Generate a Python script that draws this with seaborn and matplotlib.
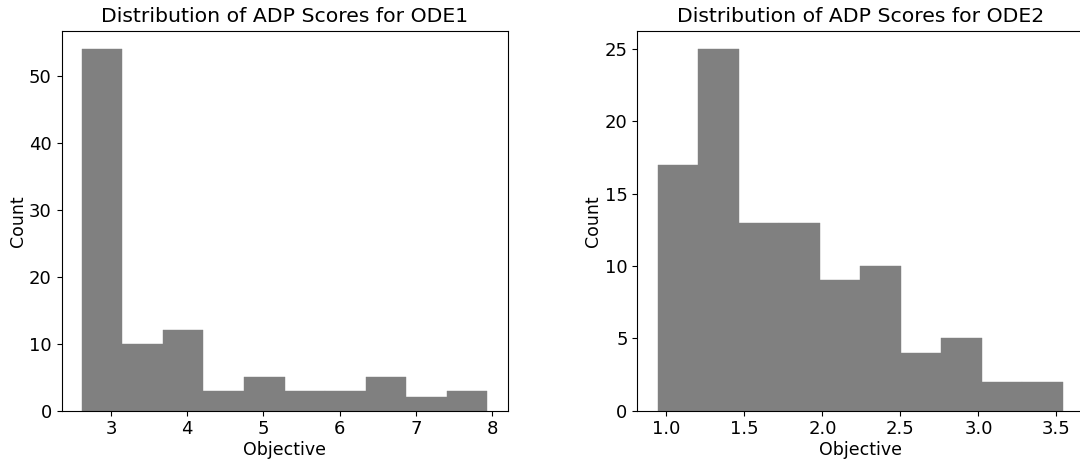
import numpy as np
import pandas as pd
import matplotlib
matplotlib.use("Agg")
import matplotlib.pyplot as plt
import seaborn as sns

# ODE1 histogram (10 bins)
ode1_edges = np.linspace(2.616, 7.935, 11)
ode1_counts = [54, 10, 12, 3, 5, 3, 3, 5, 2, 3]
# ODE2 histogram (10 bins)
ode2_edges = np.linspace(0.944, 3.542, 11)
ode2_counts = [17, 25, 13, 13, 9, 10, 4, 5, 2, 2]

titles = ["Distribution of ADP Scores for ODE1", "Distribution of ADP Scores for ODE2"]

plt.rcParams['font.family'] = ['DejaVu Sans']
fig = plt.figure(figsize=(10.8, 4.59), dpi=100)
W, H = 1080, 459
ax1 = fig.add_axes([61.5 / W, 1 - 410.7 / H, 446 / W, 380 / H])
ax2 = fig.add_axes([637.3 / W, 1 - 410.7 / H, 446 / W, 380 / H])

for ax, edges, counts, title in [(ax1, ode1_edges, ode1_counts, titles[0]),
                                 (ax2, ode2_edges, ode2_counts, titles[1])]:
    centers = (edges[:-1] + edges[1:]) / 2
    df = pd.DataFrame({"Objective": centers, "w": counts})
    sns.histplot(data=df, x="Objective", weights="w", bins=list(edges), ax=ax,
                 color="gray", alpha=1, edgecolor="gray", linewidth=0.3)
    ax.set_title(title, fontsize=14.7)
    ax.set_xlabel("Objective", fontsize=12.5, labelpad=2)
    ax.set_ylabel("Count", fontsize=12.5, labelpad=1.5)
    ax.tick_params(labelsize=13)

ax2.set_xticks([1.0, 1.5, 2.0, 2.5, 3.0, 3.5])
fig.savefig("out.png", dpi=100)
